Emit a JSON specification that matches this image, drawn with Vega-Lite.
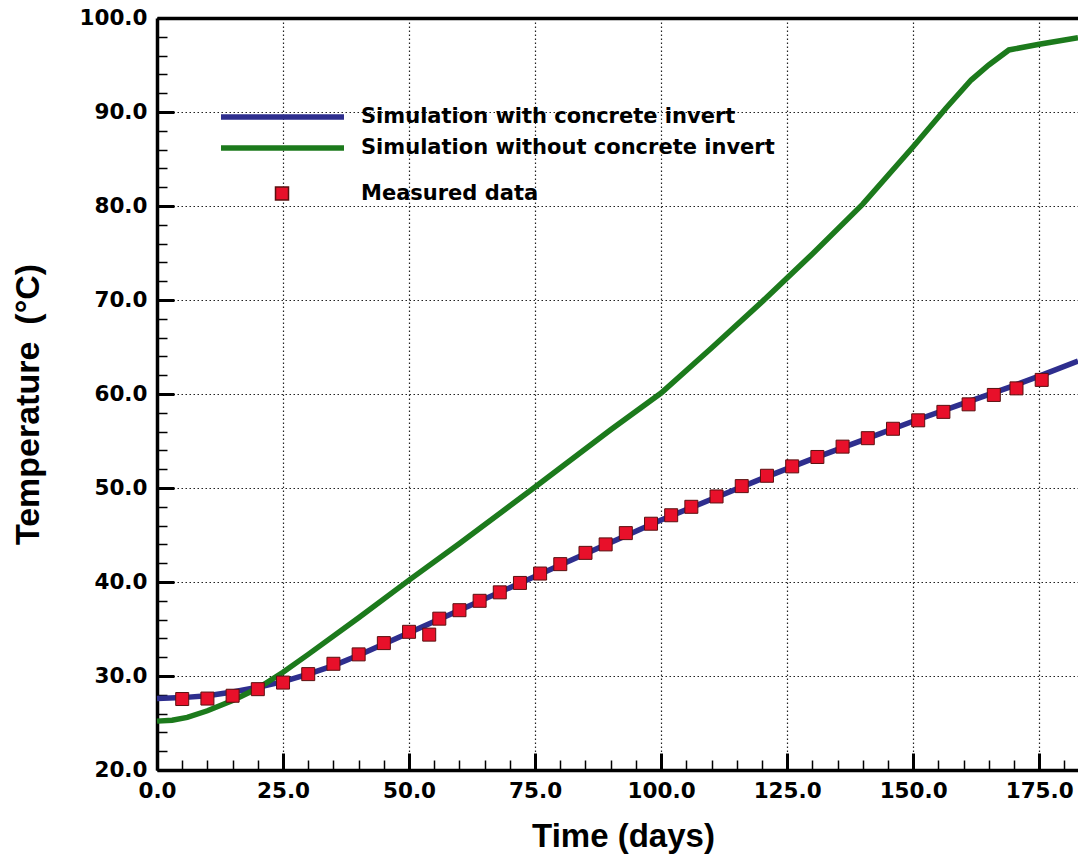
{
  "$schema": "https://vega.github.io/schema/vega-lite/v6.json",
  "width": 921,
  "height": 752,
  "autosize": {"type": "none"},
  "padding": {"left": 157, "top": 18, "right": 0, "bottom": 88},
  "background": "white",
  "config": {"view": {"stroke": null}},
  "datasets": {
    "sim": [
      {"series": "Simulation with concrete invert", "day": 0, "temp": 27.6},
      {"series": "Simulation with concrete invert", "day": 5, "temp": 27.7},
      {"series": "Simulation with concrete invert", "day": 10, "temp": 27.9},
      {"series": "Simulation with concrete invert", "day": 15, "temp": 28.3},
      {"series": "Simulation with concrete invert", "day": 20, "temp": 28.8},
      {"series": "Simulation with concrete invert", "day": 25, "temp": 29.4},
      {"series": "Simulation with concrete invert", "day": 30, "temp": 30.2},
      {"series": "Simulation with concrete invert", "day": 35, "temp": 31.1},
      {"series": "Simulation with concrete invert", "day": 40, "temp": 32.2},
      {"series": "Simulation with concrete invert", "day": 45, "temp": 33.4},
      {"series": "Simulation with concrete invert", "day": 50, "temp": 34.6},
      {"series": "Simulation with concrete invert", "day": 60, "temp": 37.0},
      {"series": "Simulation with concrete invert", "day": 70, "temp": 39.4},
      {"series": "Simulation with concrete invert", "day": 80, "temp": 41.8},
      {"series": "Simulation with concrete invert", "day": 90, "temp": 44.2},
      {"series": "Simulation with concrete invert", "day": 100, "temp": 46.6},
      {"series": "Simulation with concrete invert", "day": 110, "temp": 48.8},
      {"series": "Simulation with concrete invert", "day": 120, "temp": 51.0},
      {"series": "Simulation with concrete invert", "day": 130, "temp": 53.1},
      {"series": "Simulation with concrete invert", "day": 140, "temp": 55.1},
      {"series": "Simulation with concrete invert", "day": 150, "temp": 57.1},
      {"series": "Simulation with concrete invert", "day": 160, "temp": 59.0},
      {"series": "Simulation with concrete invert", "day": 170, "temp": 60.9},
      {"series": "Simulation with concrete invert", "day": 175, "temp": 61.9},
      {"series": "Simulation with concrete invert", "day": 182.7, "temp": 63.5},
      {"series": "Simulation without concrete invert", "day": 0, "temp": 25.2},
      {"series": "Simulation without concrete invert", "day": 3, "temp": 25.3},
      {"series": "Simulation without concrete invert", "day": 6, "temp": 25.6},
      {"series": "Simulation without concrete invert", "day": 10, "temp": 26.3},
      {"series": "Simulation without concrete invert", "day": 15, "temp": 27.4},
      {"series": "Simulation without concrete invert", "day": 20, "temp": 28.7},
      {"series": "Simulation without concrete invert", "day": 25, "temp": 30.4},
      {"series": "Simulation without concrete invert", "day": 30, "temp": 32.3},
      {"series": "Simulation without concrete invert", "day": 40, "temp": 36.2},
      {"series": "Simulation without concrete invert", "day": 50, "temp": 40.2},
      {"series": "Simulation without concrete invert", "day": 60, "temp": 44.1},
      {"series": "Simulation without concrete invert", "day": 75, "temp": 50.1},
      {"series": "Simulation without concrete invert", "day": 90, "temp": 56.2},
      {"series": "Simulation without concrete invert", "day": 100, "temp": 60.1},
      {"series": "Simulation without concrete invert", "day": 110, "temp": 64.9},
      {"series": "Simulation without concrete invert", "day": 120, "temp": 69.8},
      {"series": "Simulation without concrete invert", "day": 130, "temp": 74.9},
      {"series": "Simulation without concrete invert", "day": 140, "temp": 80.2},
      {"series": "Simulation without concrete invert", "day": 150, "temp": 86.3},
      {"series": "Simulation without concrete invert", "day": 156.5, "temp": 90.4},
      {"series": "Simulation without concrete invert", "day": 161.5, "temp": 93.4},
      {"series": "Simulation without concrete invert", "day": 165, "temp": 95.0},
      {"series": "Simulation without concrete invert", "day": 169, "temp": 96.6},
      {"series": "Simulation without concrete invert", "day": 175, "temp": 97.2},
      {"series": "Simulation without concrete invert", "day": 182.7, "temp": 97.9}
    ],
    "measured": [
      {"kind": "Measured data", "day": 5, "temp": 27.55},
      {"kind": "Measured data", "day": 10, "temp": 27.6},
      {"kind": "Measured data", "day": 15, "temp": 27.9},
      {"kind": "Measured data", "day": 20, "temp": 28.6},
      {"kind": "Measured data", "day": 25, "temp": 29.3},
      {"kind": "Measured data", "day": 30, "temp": 30.2},
      {"kind": "Measured data", "day": 35, "temp": 31.3},
      {"kind": "Measured data", "day": 40, "temp": 32.3},
      {"kind": "Measured data", "day": 45, "temp": 33.5},
      {"kind": "Measured data", "day": 50, "temp": 34.7},
      {"kind": "Measured data", "day": 54, "temp": 34.4},
      {"kind": "Measured data", "day": 56, "temp": 36.1},
      {"kind": "Measured data", "day": 60, "temp": 37.0},
      {"kind": "Measured data", "day": 64, "temp": 38.0},
      {"kind": "Measured data", "day": 68, "temp": 38.9},
      {"kind": "Measured data", "day": 72, "temp": 39.9},
      {"kind": "Measured data", "day": 76, "temp": 40.9},
      {"kind": "Measured data", "day": 80, "temp": 41.9},
      {"kind": "Measured data", "day": 85, "temp": 43.1},
      {"kind": "Measured data", "day": 89, "temp": 44.0},
      {"kind": "Measured data", "day": 93, "temp": 45.2},
      {"kind": "Measured data", "day": 98, "temp": 46.2},
      {"kind": "Measured data", "day": 102, "temp": 47.1},
      {"kind": "Measured data", "day": 106, "temp": 48.0},
      {"kind": "Measured data", "day": 111, "temp": 49.1},
      {"kind": "Measured data", "day": 116, "temp": 50.2},
      {"kind": "Measured data", "day": 121, "temp": 51.3},
      {"kind": "Measured data", "day": 126, "temp": 52.3},
      {"kind": "Measured data", "day": 131, "temp": 53.3},
      {"kind": "Measured data", "day": 136, "temp": 54.4},
      {"kind": "Measured data", "day": 141, "temp": 55.3},
      {"kind": "Measured data", "day": 146, "temp": 56.3},
      {"kind": "Measured data", "day": 151, "temp": 57.2},
      {"kind": "Measured data", "day": 156, "temp": 58.1},
      {"kind": "Measured data", "day": 161, "temp": 58.9},
      {"kind": "Measured data", "day": 166, "temp": 59.9},
      {"kind": "Measured data", "day": 170.5, "temp": 60.6},
      {"kind": "Measured data", "day": 175.5, "temp": 61.5}
    ]
  },
  "layer": [
    {
      "data": {"name": "sim"},
      "mark": {"type": "line", "strokeWidth": 5.5},
      "encoding": {
        "x": {
          "field": "day", "type": "quantitative",
          "scale": {"domain": [0, 182.7], "nice": false, "zero": false},
          "axis": {
            "orient": "bottom", "values": [0, 25, 50, 75, 100, 125, 150, 175], "format": ".1f", "title": "Time (days)",
            "grid": true, "gridDash": [1.5, 2.5], "gridColor": "#222", "gridWidth": 1.2, "gridOpacity": 1,
            "domain": true, "domainColor": "#000", "domainWidth": 3.5,
            "ticks": true, "tickSize": -17, "tickWidth": 3, "tickColor": "#000",
            "labelFont": "DejaVu Sans", "labelFontWeight": "bold", "labelFontSize": 21.5, "labelColor": "#000",
            "labelPadding": 27, "labelFlush": false, "labelOverlap": false, "labelBound": false,
            "titleFont": "Liberation Sans", "titleFontSize": 33, "titleFontWeight": "bold", "titleColor": "#000",
            "titleX": 466, "titleY": 76, "titleBaseline": "alphabetic", "titleAlign": "center"
          }
        },
        "y": {
          "field": "temp", "type": "quantitative",
          "scale": {"domain": [20, 100], "nice": false, "zero": false},
          "axis": {
            "orient": "left", "values": [20, 30, 40, 50, 60, 70, 80, 90, 100], "format": ".1f", "title": "Temperature\u2002(°C)",
            "grid": true, "gridDash": [1.5, 2.5], "gridColor": "#222", "gridWidth": 1.2, "gridOpacity": 1,
            "domain": true, "domainColor": "#000", "domainWidth": 3.5,
            "ticks": true, "tickSize": -17, "tickWidth": 3, "tickColor": "#000",
            "labelFont": "DejaVu Sans", "labelFontWeight": "bold", "labelFontSize": 21.5, "labelColor": "#000",
            "labelPadding": 27, "labelFlush": false, "labelOverlap": false, "labelBound": false,
            "titleFont": "Liberation Sans", "titleFontSize": 34, "titleFontWeight": "bold", "titleColor": "#000",
            "titleX": -119, "titleY": 386, "titleBaseline": "alphabetic", "titleAlign": "center", "titleAngle": -90
          }
        },
        "color": {
          "field": "series", "type": "nominal",
          "scale": {
            "domain": ["Simulation with concrete invert", "Simulation without concrete invert"],
            "range": ["#2e2e8e", "#1c7a1c"]
          },
          "legend": {
            "orient": "none", "legendX": 112.5, "legendY": 86,
            "title": null,
            "symbolType": "M-6.15,0H6.15", "symbolSize": 400, "symbolStrokeWidth": 5.5,
            "labelFont": "DejaVu Sans", "labelFontWeight": "bold", "labelFontSize": 21, "labelColor": "#000",
            "labelOffset": 65.5, "labelLimit": 0, "rowPadding": 7
          }
        }
      }
    },
    {
      "data": {"name": "measured"},
      "mark": {"type": "point", "opacity": 0},
      "encoding": {
        "x": {"field": "day", "type": "quantitative",
          "axis": {"orient": "top", "domain": true, "domainWidth": 3.5, "domainColor": "#000", "ticks": false, "labels": false, "grid": false, "title": null}},
        "y": {"field": "temp", "type": "quantitative",
          "axis": {"orient": "left", "values": [22, 24, 26, 28, 32, 34, 36, 38, 42, 44, 46, 48, 52, 54, 56, 58, 62, 64, 66, 68, 72, 74, 76, 78, 82, 84, 86, 88, 92, 94, 96, 98], "domain": false, "labels": false, "grid": false, "title": null, "ticks": true, "tickSize": -10, "tickWidth": 1.5, "tickColor": "#000"}}
      }
    },
    {
      "data": {"name": "measured"},
      "mark": {"type": "point", "opacity": 0},
      "encoding": {
        "x": {"field": "day", "type": "quantitative",
          "axis": {"orient": "bottom", "values": [5, 10, 15, 20, 30, 35, 40, 45, 55, 60, 65, 70, 80, 85, 90, 95, 105, 110, 115, 120, 130, 135, 140, 145, 155, 160, 165, 170, 180], "domain": false, "labels": false, "grid": false, "title": null, "ticks": true, "tickSize": -10, "tickWidth": 1.5, "tickColor": "#000"}},
        "y": {"field": "temp", "type": "quantitative", "axis": null}
      }
    },
    {
      "data": {"name": "measured"},
      "mark": {"type": "point", "shape": "square", "filled": true, "size": 169, "fill": "#e8102a", "stroke": "#5a1010", "strokeWidth": 1, "opacity": 1},
      "encoding": {
        "x": {"field": "day", "type": "quantitative", "axis": null},
        "y": {"field": "temp", "type": "quantitative", "axis": null},
        "shape": {
          "field": "kind", "type": "nominal",
          "scale": {"domain": ["Measured data"], "range": ["square"]},
          "legend": {
            "orient": "none", "legendX": 114.5, "legendY": 165,
            "title": null, "symbolSize": 169,
            "labelFont": "DejaVu Sans", "labelFontWeight": "bold", "labelFontSize": 21, "labelColor": "#000",
            "labelOffset": 68.5, "labelLimit": 0,
            "encode": {"symbols": {"update": {"fill": {"value": "#e8102a"}, "stroke": {"value": "#5a1010"}, "strokeWidth": {"value": 1}, "opacity": {"value": 1}}}}
          }
        }
      }
    }
  ],
  "resolve": {"axis": {"x": "independent", "y": "independent"}}
}
